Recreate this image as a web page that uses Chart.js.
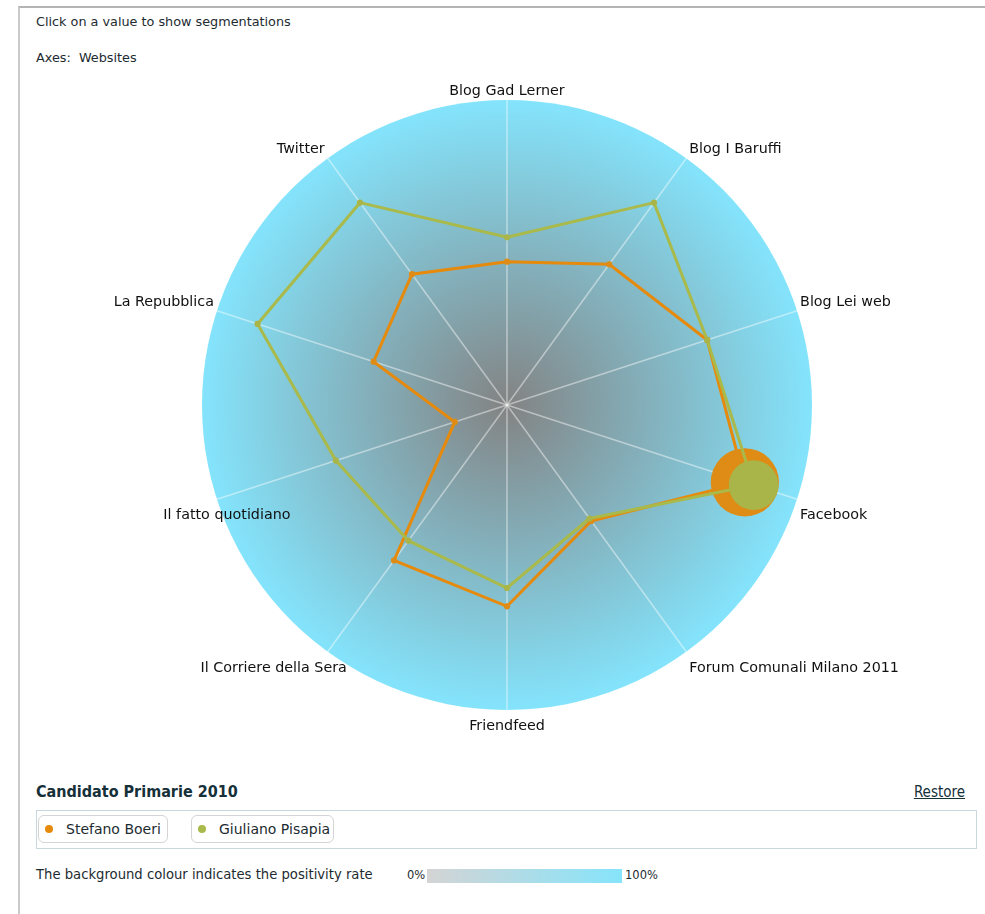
<!DOCTYPE html>
<html>
<head>
<meta charset="utf-8">
<script src="https://cdn.jsdelivr.net/npm/chart.js@4.4.0/dist/chart.umd.min.js"></script>
<style>
  body { margin: 0; background: #fff; width: 985px; height: 914px; overflow: hidden; font-family: "DejaVu Sans", sans-serif; color: #1d2b30; }
  #frame { position: absolute; left: 18px; top: 6px; right: 0; bottom: 0; border-left: 2px solid #c9c9c9; border-top: 2px solid #b4b4b4; }
  .txt { position: absolute; font-size: 12.8px; white-space: nowrap; }
  #chartWrap { position: absolute; left: 0; top: 0; width: 985px; height: 745px; }
  #title { position: absolute; left: 36px; top: 782px; font-size: 16px; font-weight: bold; color: #16303a; font-family: "DejaVu Sans Condensed", "DejaVu Sans", sans-serif; }
  #restore { position: absolute; right: 20px; top: 783px; font-size: 15px; color: #16303a; text-decoration: underline; font-family: "DejaVu Sans Condensed", "DejaVu Sans", sans-serif; }
  #legend { position: absolute; left: 36px; top: 810px; width: 939px; height: 37px; border: 1px solid #c8d8de; }
  .item { position: absolute; top: 4px; height: 28px; border: 1px solid #d4d4d4; border-radius: 6px; font-size: 14px; line-height: 27px; box-sizing: border-box; white-space: nowrap; }
  .dot { display: inline-block; width: 8px; height: 8px; border-radius: 50%; margin: 0 13px 0 6px; vertical-align: middle; position: relative; top: -1px; }
  #note { left: 36px; top: 867px; font-size: 13.2px; }
  #bar { position: absolute; left: 427px; top: 869px; width: 195px; height: 14px; background: linear-gradient(to right, #d4d4d4, #86e4fb); }
</style>
</head>
<body>
<div id="frame"></div>
<div class="txt" style="left:36px;top:14px;">Click on a value to show segmentations</div>
<div class="txt" style="left:36px;top:50px;">Axes:&nbsp; Websites</div>
<div id="chartWrap"><canvas id="radar"></canvas></div>
<div id="title">Candidato Primarie 2010</div>
<div id="restore">Restore</div>
<div id="legend">
  <div class="item" style="left:1px;width:130px;"><span class="dot" style="background:#e58a0c"></span>Stefano Boeri</div>
  <div class="item" style="left:154px;width:143px;"><span class="dot" style="background:#a9ba4a"></span>Giuliano Pisapia</div>
</div>
<div class="txt" id="note">The background colour indicates the positivity rate</div>
<div class="txt" style="left:407px;top:868px;font-size:11.5px;">0%</div>
<div id="bar"></div>
<div class="txt" style="left:625px;top:868px;font-size:11.5px;">100%</div>

<script>
// websites on the axes, clockwise from the top
const websites = ['Blog Gad Lerner', 'Blog I Baruffi', 'Blog Lei web', 'Facebook', 'Forum Comunali Milano 2011',
    'Friendfeed', 'Il Corriere della Sera', 'Il fatto quotidiano', 'La Repubblica', 'Twitter'];

// values (0 - 100)
const boeriValues = [47, 57, 69, 82, 47, 66, 63, 18, 46, 53];
const pisapiaValues = [55, 82, 69, 85, 46, 60, 55, 59, 86, 82];

// relative bubble size per point (1 = plain point)
const boeriBubble = [1, 1, 1, 11, 1, 1, 1, 1, 1, 1];
const pisapiaBubble = [1, 1, 1, 8, 1, 1, 1, 1, 1, 1];

// radial gradient disc behind the spokes
const discPlugin = {
    id: 'disc',
    beforeDraw(chart) {
        const s = chart.scales.r;
        const ctx = chart.ctx;
        const g = ctx.createRadialGradient(s.xCenter, s.yCenter, 0, s.xCenter, s.yCenter, s.drawingArea);
        g.addColorStop(0, '#838383');
        g.addColorStop(1, '#84e4fc');
        ctx.save();
        ctx.beginPath();
        ctx.arc(s.xCenter, s.yCenter, s.drawingArea, 0, Math.PI * 2);
        ctx.fillStyle = g;
        ctx.fill();
        ctx.restore();
    }
};

// axis names, placed from the end of each spoke
const labelPlugin = {
    id: 'axisNames',
    afterDraw(chart) {
        const s = chart.scales.r;
        const ctx = chart.ctx;
        const n = websites.length;
        ctx.save();
        ctx.font = '14.3px "DejaVu Sans"';
        ctx.fillStyle = '#111';
        ctx.textBaseline = 'middle';
        for (let i = 0; i < n; i++) {
            const p = s.getPointPosition(i, s.drawingArea);
            const deg = i * 360 / n;
            let align = deg === 0 || deg === 180 ? 'center' : (deg < 180 ? 'left' : 'right');
            let x = p.x + (align === 'left' ? 3 : align === 'right' ? -3 : 0);
            let y = p.y + (deg < 90 || deg > 270 ? -8.5 : 16.5);
            // the two lower-left names sit centred, not flush to the spoke
            if (i === 6) { align = 'center'; x = p.x - 54; }
            if (i === 7) { align = 'center'; x = p.x + 10; }
            ctx.textAlign = align;
            ctx.fillText(websites[i], x, y);
        }
        ctx.restore();
    }
};

const ctx = document.getElementById('radar').getContext('2d');
new Chart(ctx, {
    type: 'radar',
    data: {
        labels: websites,
        datasets: [{
            label: 'Giuliano Pisapia',
            data: pisapiaValues,
            order: 0,
            borderColor: '#a9ba4a',
            backgroundColor: '#a9b548',
            pointBackgroundColor: '#a9b548',
            pointBorderWidth: 0,
            borderWidth: 3,
            fill: false,
            pointRadius: pisapiaBubble.map(b => b * 3.1),
            pointHoverRadius: pisapiaBubble.map(b => b * 3.1)
        }, {
            label: 'Stefano Boeri',
            data: boeriValues,
            order: 1,
            borderColor: '#e58a0c',
            backgroundColor: '#de8c15',
            pointBackgroundColor: '#de8c15',
            pointBorderWidth: 0,
            borderWidth: 3,
            fill: false,
            pointRadius: boeriBubble.map(b => b * 3.1),
            pointHoverRadius: boeriBubble.map(b => b * 3.1)
        }]
    },
    options: {
        responsive: true,
        maintainAspectRatio: false,
        animation: false,
        layout: { padding: { top: 100, bottom: 35, left: 29, right: 0 } },
        elements: { line: { tension: 0 } },
        plugins: { legend: { display: false }, tooltip: { enabled: false } },
        scales: {
            r: {
                min: 0,
                max: 100,
                ticks: { display: false },
                grid: { display: false },
                angleLines: { color: 'rgba(255,255,255,0.45)', lineWidth: 1.5 },
                pointLabels: { display: false }
            }
        }
    },
    plugins: [discPlugin, labelPlugin]
});
</script>
</body>
</html>
